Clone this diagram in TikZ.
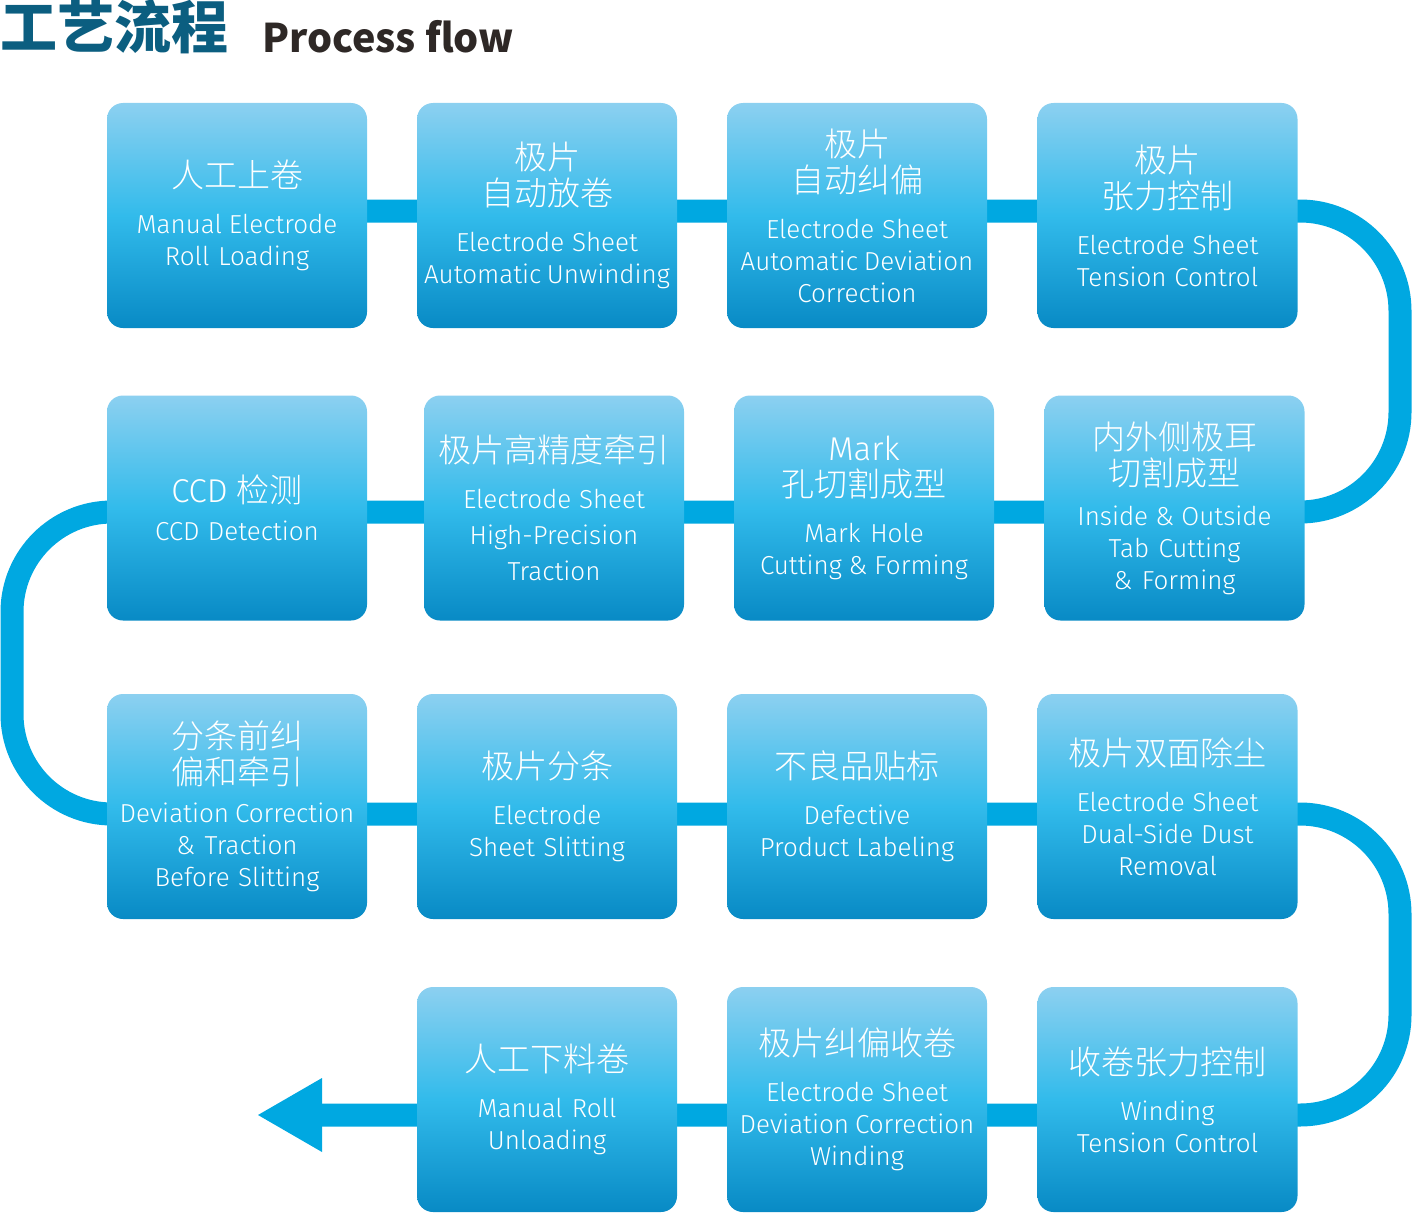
\documentclass[tikz,border=0pt]{standalone}
\usepackage{fontspec}
\usetikzlibrary{backgrounds}
\newfontfamily\cnbold{Noto Sans CJK SC}
\IfFontExistsTF{Noto Sans CJK SC Light}
  {\newfontfamily\cnfont{Noto Sans CJK SC Light}}
  {\IfFontExistsTF{Noto Sans CJK SC DemiLight}
    {\newfontfamily\cnfont{Noto Sans CJK SC DemiLight}}
    {\newfontfamily\cnfont{Noto Sans CJK SC}}}
\newfontfamily\enfont{Fira Sans Light}
\definecolor{barblue}{RGB}{0,168,225}
\definecolor{boxtop}{RGB}{140,208,240}
\definecolor{boxmid}{RGB}{50,187,235}
\definecolor{boxbot}{RGB}{8,138,197}
\definecolor{titleblue}{RGB}{11,94,128}
\definecolor{titledark}{RGB}{46,40,38}
\tikzset{
  stepbox/.style={
    rectangle, rounded corners=16pt,
    minimum width=260pt, minimum height=225pt,
    inner sep=0pt, text width=258pt, align=center,
    text=white,
    top color=boxtop, bottom color=boxbot, middle color=boxmid,
  },
  bar/.style={draw=barblue, line width=23pt, rounded corners=100pt},
}
\newcommand{\steptext}[3][14pt]{%
  {\cnfont\fontsize{33}{36}\selectfont #2\par}\vspace{#1}%
  {\enfont\fontsize{26}{32}\selectfont\spaceskip=.2em plus .05em minus .05em\relax #3\par}}

\begin{document}
\begin{tikzpicture}[x=1pt, y=1pt]
    \useasboundingbox (0,0) rectangle (1412,-1212);

    \node[anchor=west, inner sep=0pt, text=titleblue,
          font=\cnbold\bfseries\fontsize{57}{57}\selectfont] (title) at (0,-27) {工艺流程};
    \node[anchor=base west, inner sep=0pt, text=titledark,
          font=\cnbold\bfseries\fontsize{39.5}{40}\selectfont] (subtitle) at (262,-53) {Process flow};

    % rows of the flow line
    \coordinate (r1) at (0,-211);
    \coordinate (r2) at (0,-512);
    \coordinate (r3) at (0,-814);
    \coordinate (r4) at (0,-1115);
    \coordinate (end) at (258,-1115);

    % row 1
    \node[stepbox] (s1)  at (237,-215.5)    {\steptext{人工上卷}{Manual Electrode\\Roll Loading}};
    \node[stepbox] (s2)  at (547,-215.5)    {\steptext{极片\\自动放卷}{Electrode Sheet\\Automatic Unwinding}};
    \node[stepbox] (s3)  at (857,-215.5)    {\steptext{极片\\自动纠偏}{Electrode Sheet\\Automatic Deviation\\Correction}};
    \node[stepbox] (s4)  at (1167.5,-215.5) {\steptext{极片\\张力控制}{Electrode Sheet\\Tension Control}};
    % row 2
    \node[stepbox] (s5)  at (1174.5,-508)   {\steptext[8pt]{内外侧极耳\\切割成型}{Inside \& Outside\\Tab Cutting\\\& Forming}};
    \node[stepbox] (s6)  at (864,-508)      {\steptext{{\enfont Mark}\\孔切割成型}{Mark Hole\\Cutting \& Forming}};
    \node[stepbox] (s7)  at (554,-508)      {\steptext[10pt]{极片高精度牵引}{\fontsize{26}{36}\selectfont Electrode Sheet\\High-Precision\\Traction}};
    \node[stepbox] (s8)  at (237,-508)      {\steptext[6pt]{{\enfont CCD}\hspace{9pt}检测}{CCD Detection}};
    % row 3
    \node[stepbox] (s9)  at (237,-806.5)    {\steptext[6pt]{分条前纠\\偏和牵引}{Deviation Correction\\\& Traction\\Before Slitting}};
    \node[stepbox] (s10) at (547,-806.5)    {\steptext{极片分条}{Electrode\\Sheet Slitting}};
    \node[stepbox] (s11) at (857,-806.5)    {\steptext{不良品贴标}{Defective\\Product Labeling}};
    \node[stepbox] (s12) at (1167.5,-806.5) {\steptext{极片双面除尘}{Electrode Sheet\\Dual-Side Dust\\Removal}};
    % row 4
    \node[stepbox] (s13) at (1167.5,-1099.5) {\steptext{收卷张力控制}{Winding\\Tension Control}};
    \node[stepbox] (s14) at (857,-1099.5)    {\steptext{极片纠偏收卷}{Electrode Sheet\\Deviation Correction\\Winding}};
    \node[stepbox] (s15) at (547,-1099.5)    {\steptext{人工下料卷}{Manual Roll\\Unloading}};

    % flow line behind the boxes
    \begin{scope}[on background layer]
        \draw[bar] (s1 |- r1) -- (s4 |- r1) -- (1400,-211) -- (1400,-512)
            -- (s5 |- r2) -- (s8 |- r2) -- (12,-512) -- (12,-814)
            -- (s9 |- r3) -- (s12 |- r3) -- (1400,-814) -- (1400,-1115)
            -- (s13 |- r4) -- ([xshift=64pt]end);
        \fill[barblue] (end) -- ++(64,37) -- ++(0,-74) -- cycle;
    \end{scope}
\end{tikzpicture}
\end{document}
